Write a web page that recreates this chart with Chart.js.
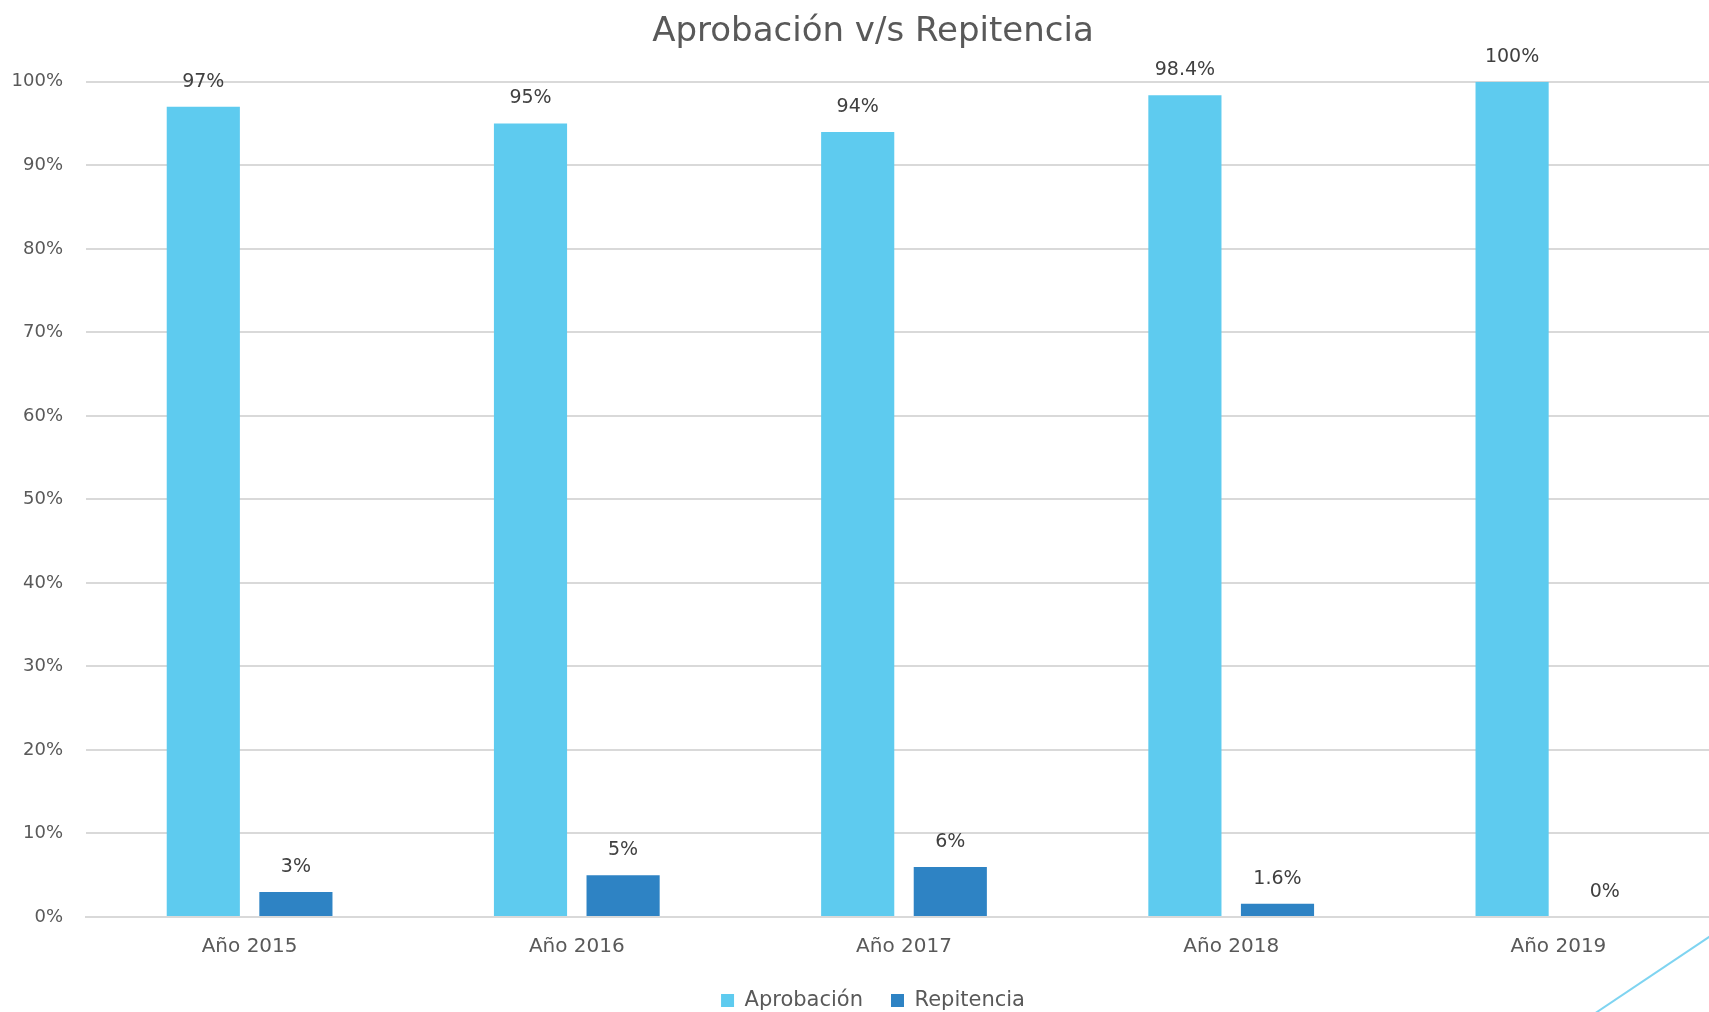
<!DOCTYPE html>
<html lang="es">
<head>
    <meta charset="UTF-8">
    <title>Aprobación v/s Repitencia</title>
    <script src="https://cdn.jsdelivr.net/npm/chart.js"></script>
    <style>
        html, body { margin: 0; padding: 0; background: #fff; overflow: hidden; }
        body { width: 1709px; height: 1012px; position: relative; }
        #wrap { position: absolute; left: 0; top: 0; width: 1746px; height: 1012px; }
        #deco { position: absolute; left: 0; top: 0; pointer-events: none; }
    </style>
</head>
<body>
    <div id="wrap"><canvas id="chart"></canvas></div>
    <svg id="deco" width="1709" height="1012">
        <line x1="1712" y1="935" x2="1594" y2="1014" stroke="#7fd4f1" stroke-width="2"/>
    </svg>

    <script>
        const categories = ["Año 2015", "Año 2016", "Año 2017", "Año 2018", "Año 2019"];
        const aprobacion = [97, 95, 94, 98.4, 100];
        const repitencia = [3, 5, 6, 1.6, 0];
        const yTicks = [0, 10, 20, 30, 40, 50, 60, 70, 80, 90, 100];

        const FONT = "'DejaVu Sans', sans-serif";
        const TEXT = "#595959";

        // labels above each bar
        const barLabels = {
            id: "barLabels",
            afterDatasetsDraw(chart) {
                const ctx = chart.ctx;
                ctx.save();
                ctx.font = "19px " + FONT;
                ctx.fillStyle = "#404040";
                ctx.textAlign = "center";
                ctx.textBaseline = "middle";
                chart.data.datasets.forEach((ds, i) => {
                    chart.getDatasetMeta(i).data.forEach((bar, j) => {
                        ctx.fillText(ds.data[j] + "%", bar.x, bar.y - 25);
                    });
                });
                ctx.restore();
            }
        };

        new Chart(document.getElementById("chart"), {
            type: "bar",
            data: {
                labels: categories,
                datasets: [
                    { label: "Aprobación", data: aprobacion, backgroundColor: "#5ecbef" },
                    { label: "Repitencia", data: repitencia, backgroundColor: "#2e83c4" }
                ]
            },
            options: {
                responsive: true,
                maintainAspectRatio: false,
                animation: false,
                categoryPercentage: 0.566,
                barPercentage: 0.79,
                plugins: {
                    title: {
                        display: true,
                        text: "Aprobación v/s Repitencia",
                        color: TEXT,
                        font: { family: FONT, size: 34, weight: "normal" },
                        padding: { top: 12, bottom: 29 }
                    },
                    legend: {
                        position: "bottom",
                        maxHeight: 50,
                        labels: {
                            color: TEXT,
                            font: { family: FONT, size: 21 },
                            boxWidth: 13,
                            boxHeight: 13,
                            padding: 28
                        }
                    },
                    tooltip: { enabled: false }
                },
                scales: {
                    x: {
                        grid: { display: false, drawTicks: false },
                        border: { color: "#d9d9d9", width: 2 },
                        ticks: { color: TEXT, font: { family: FONT, size: 20 }, padding: 18 },
                        afterFit(s) { s.height = 45; }
                    },
                    y: {
                        min: 0,
                        max: 100,
                        afterBuildTicks(s) { s.ticks = yTicks.map(v => ({ value: v })); },
                        grid: { color: "#d9d9d9", lineWidth: 2, drawTicks: false },
                        border: { display: false },
                        ticks: {
                            color: TEXT,
                            font: { family: FONT, size: 18 },
                            padding: 23,
                            callback: v => v + "%"
                        },
                        afterFit(s) { s.width = 86; }
                    },
                    // empty right-hand spacer so the plot ends before the title's frame
                    yRight: {
                        position: "right",
                        display: true,
                        grid: { display: false, drawTicks: false },
                        border: { display: false },
                        ticks: { display: false },
                        afterFit(s) { s.width = 24; }
                    }
                }
            },
            plugins: [barLabels]
        });
    </script>
</body>
</html>
